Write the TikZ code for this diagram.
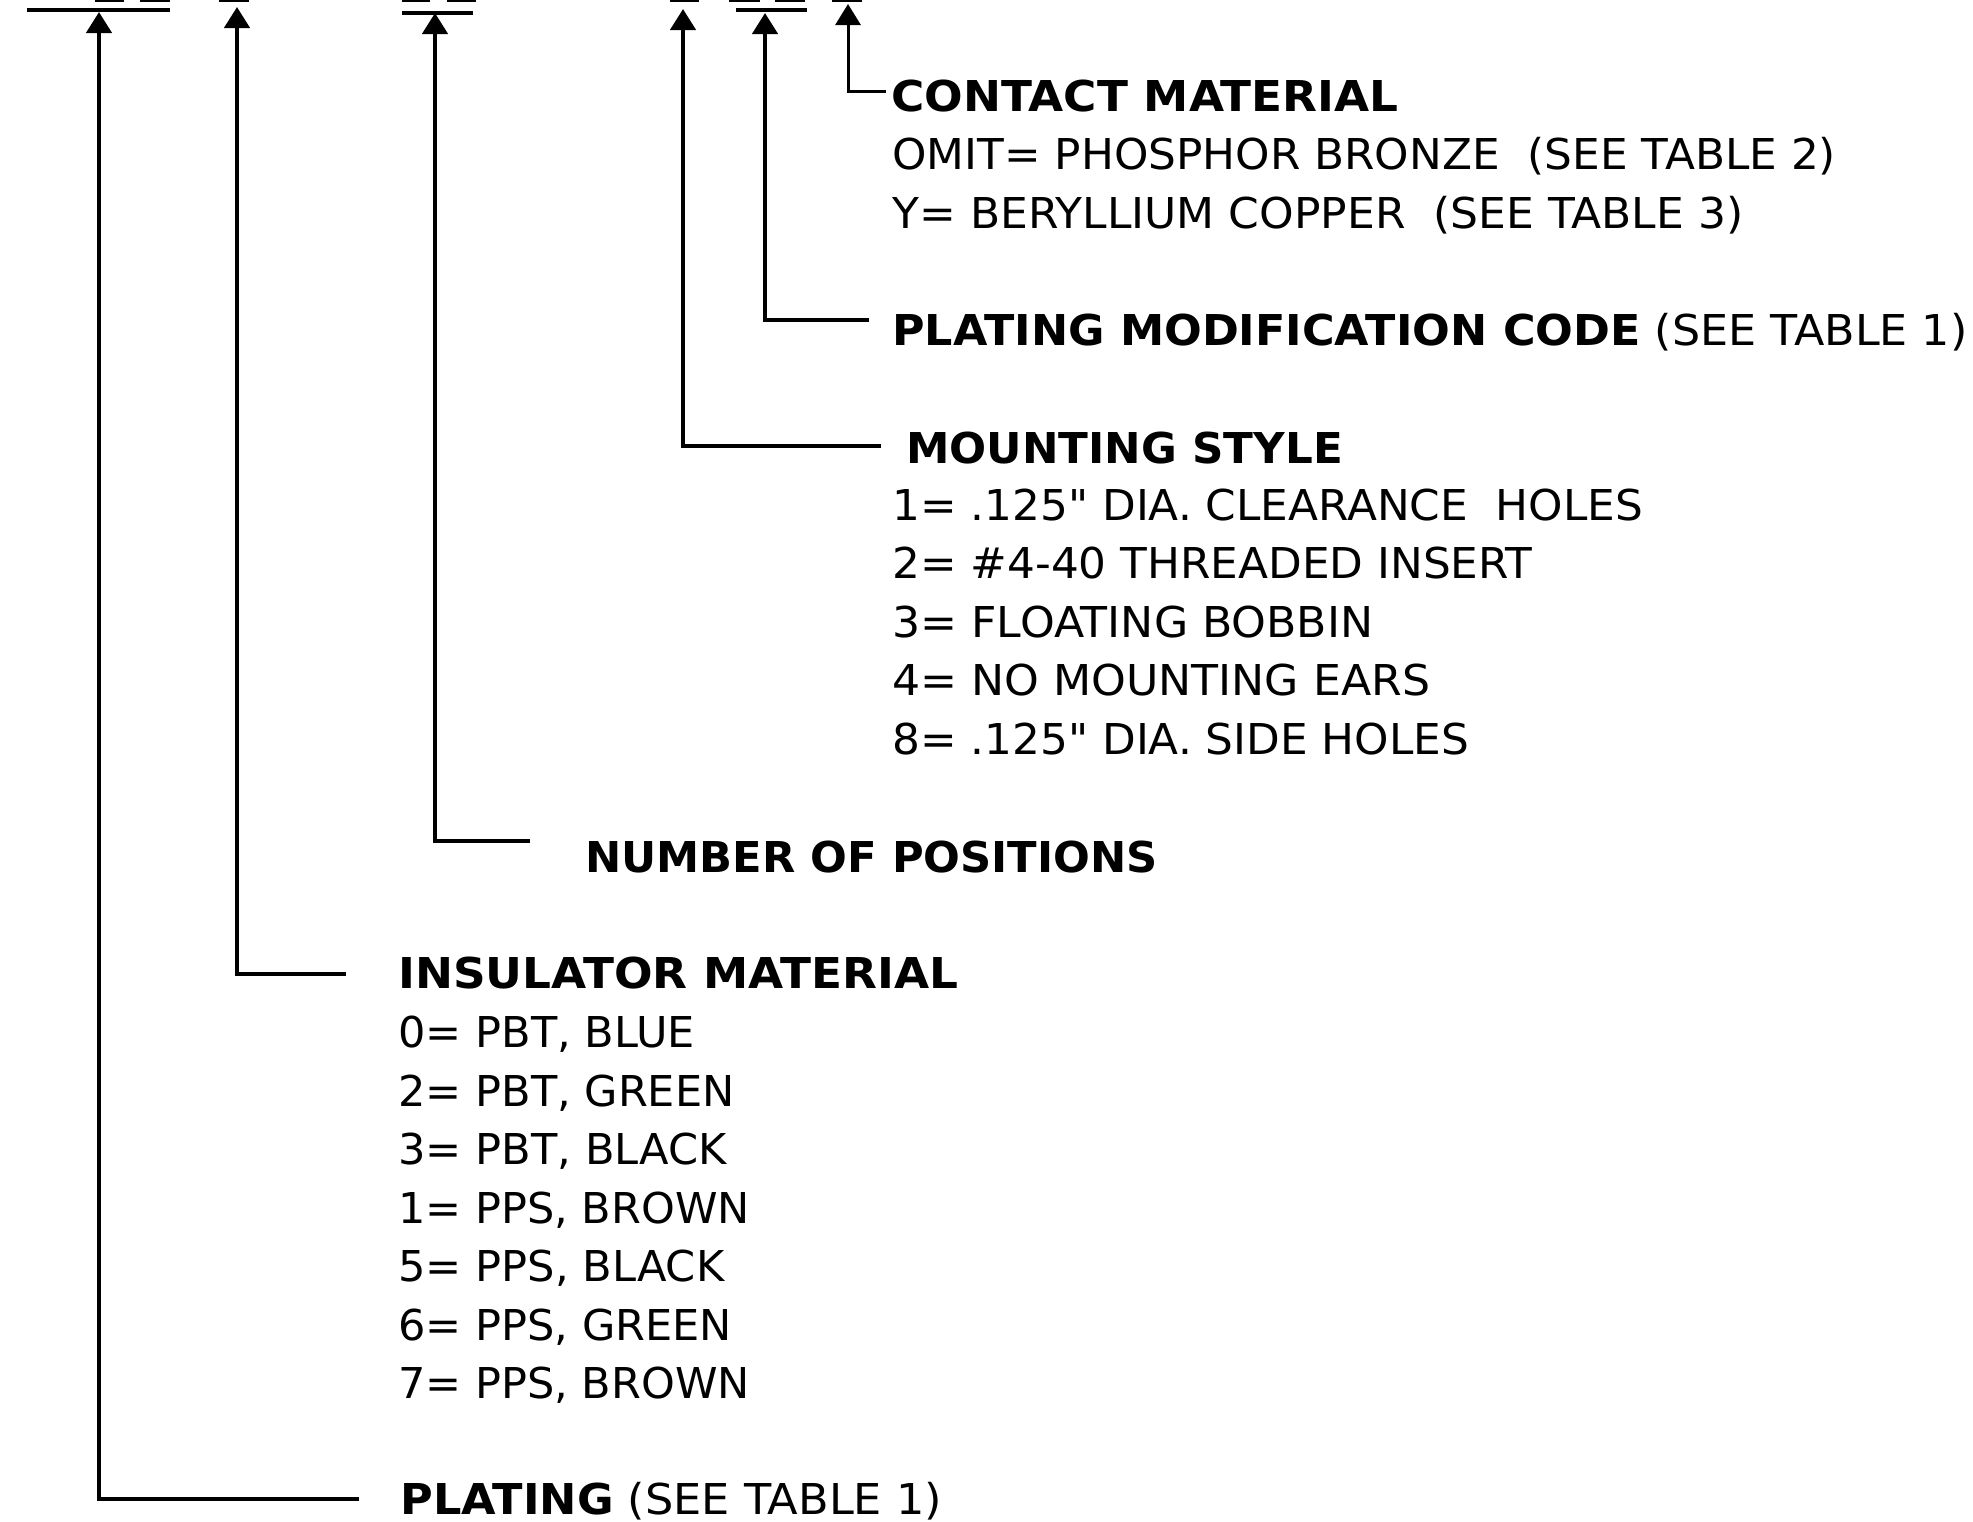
\documentclass[tikz,border=0pt]{standalone}
\usepackage{graphicx}
\usepackage{fontspec}
\setmainfont{DejaVu Sans}[Ligatures=TeXOff]
\usetikzlibrary{arrows.meta}
\newcommand{\hsx}[2]{\scalebox{#1}[1]{#2}}
\begin{document}
\begin{tikzpicture}[x=0.5pt,y=-0.5pt,
  conn/.style={line width=2.2pt,-{Triangle[width=12.5pt,length=10.5pt]}},
  thinconn/.style={line width=1.5pt,-{Triangle[width=12.5pt,length=10.5pt]}},
  bar/.style={line width=2pt},
  lbl/.style={anchor=base west,inner sep=0pt,font=\fontsize{21.25pt}{25pt}\selectfont},
  head/.style={anchor=base west,inner sep=0pt,font=\fontsize{21.25pt}{25pt}\selectfont\bfseries}]
\useasboundingbox (0,0) rectangle (1973,1521);
% code marks at the top (cut off)
\foreach \a/\b in {95/124,140/170,219/249,402/430,447/476,670/699,729/760,775/805,832/862}
  \draw[bar] (\a,0) -- (\b,0);
\draw[bar] (27,10) -- (170,10);
\draw[bar] (402,13) -- (473,13);
\draw[bar] (736,10) -- (807,10);
% tips
\coordinate (t1) at (99,12);
\coordinate (t2) at (237,7);
\coordinate (t3) at (435,13);
\coordinate (t4) at (683,9);
\coordinate (t5) at (765,13);
\coordinate (t6) at (848,4);
% elbow ends
\coordinate (e1) at (359,1499);
\coordinate (e2) at (346,974);
\coordinate (e3) at (530,841);
\coordinate (e4) at (881,446);
\coordinate (e5) at (869,320);
\coordinate (e6) at (886,91);
% labels
\node[head] (c6) at (891,111) {\hsx{1.068}{CONTACT MATERIAL}};
\node[lbl] (c6a) at (892,169.5) {\hsx{1.03}{OMIT= PHOSPHOR BRONZE\ \ (SEE TABLE 2)}};
\node[lbl] (c6b) at (892,228) {\hsx{1.035}{Y= BERYLLIUM COPPER\ \ (SEE TABLE 3)}};
\node[lbl] (c5) at (892,345) {\hsx{1.045}{\textbf{PLATING MODIFICATION CODE} (SEE TABLE 1)}};
\node[head] (c4) at (906,463) {\hsx{1.027}{MOUNTING STYLE}};
\node[lbl] (m1) at (892,520) {\hsx{1.03}{1= .125" DIA. CLEARANCE\ \ HOLES}};
\node[lbl] (m2) at (892,578.5) {\hsx{1.03}{2= \#4-40 THREADED INSERT}};
\node[lbl] (m3) at (892,637) {\hsx{1.04}{3= FLOATING BOBBIN}};
\node[lbl] (m4) at (892,695.5) {\hsx{1.04}{4= NO MOUNTING EARS}};
\node[lbl] (m5) at (892,754) {\hsx{1.03}{8= .125" DIA. SIDE HOLES}};
\node[head] (c3) at (585,872) {\hsx{1.018}{NUMBER OF POSITIONS}};
\node[head] (c2) at (398,988) {\hsx{1.068}{INSULATOR MATERIAL}};
\node[lbl] (i1) at (398,1047.5) {\hsx{1.013}{0= PBT, BLUE}};
\node[lbl] (i2) at (398,1106) {\hsx{1.013}{2= PBT, GREEN}};
\node[lbl] (i3) at (398,1164.5) {\hsx{1.015}{3= PBT, BLACK}};
\node[lbl] (i4) at (398,1223) {\hsx{1.012}{1= PPS, BROWN}};
\node[lbl] (i5) at (398,1281.5) {\hsx{1.015}{5= PPS, BLACK}};
\node[lbl] (i6) at (398,1340) {\hsx{1.013}{6= PPS, GREEN}};
\node[lbl] (i7) at (398,1398.5) {\hsx{1.012}{7= PPS, BROWN}};
\node[lbl] (c1) at (400,1514) {\hsx{1.05}{\textbf{PLATING} (SEE TABLE 1)}};
% connectors
\draw[conn] (e1) -| (t1);
\draw[conn] (e2) -| (t2);
\draw[conn] (e3) -| (t3);
\draw[conn] (e4) -| (t4);
\draw[conn] (e5) -| (t5);
\draw[thinconn] (e6) -| (t6);
\end{tikzpicture}
\end{document}
